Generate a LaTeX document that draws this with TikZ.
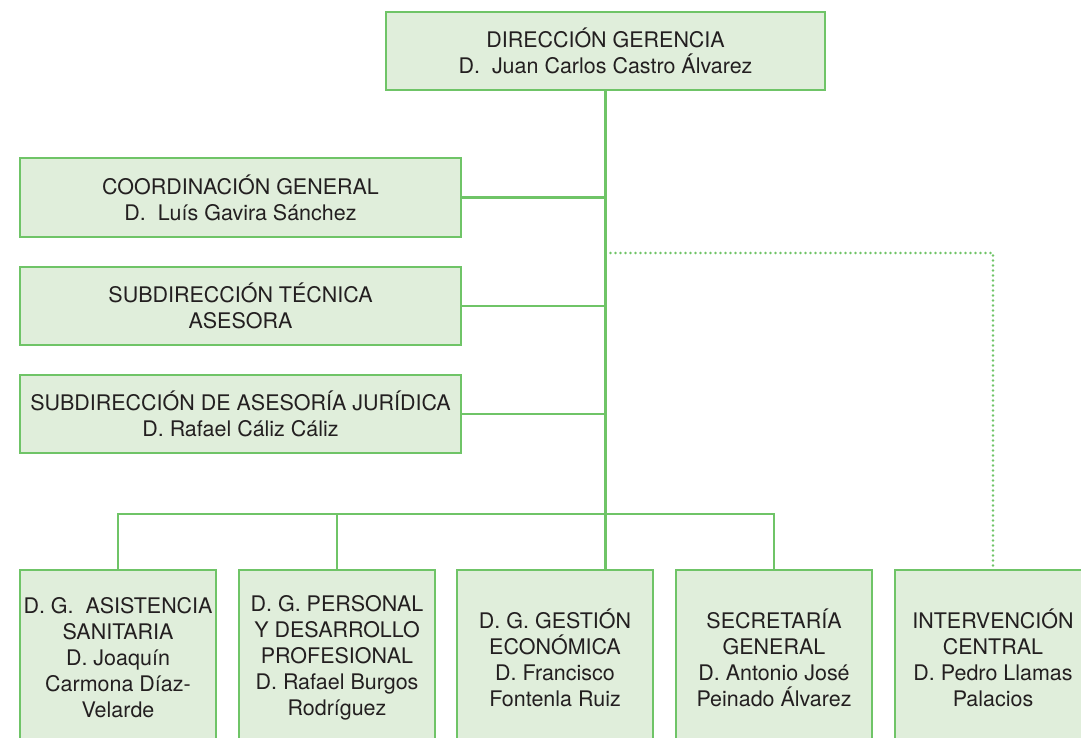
\documentclass[tikz,border=0pt]{standalone}
\usepackage{fontspec}
\setmainfont{TeX Gyre Heros}
\definecolor{lgreen}{HTML}{6FC467}
\definecolor{lfill}{HTML}{E0EEDB}
\definecolor{txt}{HTML}{231F20}
\tikzset{
  orgbox/.style={draw=lgreen, fill=lfill, line width=2pt, inner sep=0pt, align=center,
    text=txt, font=\fontsize{16.1pt}{19.5pt}\selectfont},
  link/.style={draw=lgreen, line width=2pt},
  dotlink/.style={draw=lgreen, line width=2pt, line cap=round, dash pattern=on 0pt off 3.75pt},
}
\begin{document}
\begin{tikzpicture}[x=0.75pt, y=-0.75pt]
\path[use as bounding box, clip] (0,0) rectangle (1081,738);
\fill[white] (0,0) rectangle (1081,738);
% boxes
\node[orgbox, minimum width=329.25pt, minimum height=58.5pt] (top) at (605.5,51)
  {DIRECCIÓN GERENCIA\\D.\ \ Juan Carlos Castro Álvarez};
\node[orgbox, minimum width=330.75pt, minimum height=59.25pt] (coord) at (240.5,197.5)
  {COORDINACIÓN GENERAL\\D.\ \ Luís Gavira Sánchez};
\node[orgbox, minimum width=330.75pt, minimum height=58.5pt] (tec) at (240.5,306)
  {SUBDIRECCIÓN TÉCNICA\\ASESORA};
\node[orgbox, minimum width=330.75pt, minimum height=58.5pt] (jur) at (240.5,414)
  {SUBDIRECCIÓN DE ASESORÍA JURÍDICA\\D. Rafael Cáliz Cáliz};
\node[orgbox, minimum width=147pt, minimum height=132pt] (b1) at (118,658)
  {D. G.\ \ ASISTENCIA\\SANITARIA\\D. Joaquín\\Carmona Díaz-\\Velarde};
\node[orgbox, minimum width=147pt, minimum height=132pt] (b2) at (337,658)
  {D. G. PERSONAL\\Y DESARROLLO\\PROFESIONAL\\D. Rafael Burgos\\Rodríguez};
\node[orgbox, minimum width=147pt, minimum height=132pt] (b3) at (555,658)
  {D. G. GESTIÓN\\ECONÓMICA\\D. Francisco\\Fontenla Ruiz};
\node[orgbox, minimum width=147pt, minimum height=132pt] (b4) at (774,658)
  {SECRETARÍA\\GENERAL\\D. Antonio José\\Peinado Álvarez};
\node[orgbox, minimum width=147pt, minimum height=132pt] (b5) at (993,658)
  {INTERVENCIÓN\\CENTRAL\\D. Pedro Llamas\\Palacios};
% connectors
\coordinate (hub) at (605.5,514);
\coordinate (dot) at (605.5,253);
\draw[link] (top.south) -- (top.south |- b3.north);
\draw[link] (coord.east) -- (coord.east -| top.south);
\draw[link] (tec.east) -- (tec.east -| top.south);
\draw[link] (jur.east) -- (jur.east -| top.south);
\draw[link] (b1.north) -- (b1.north |- hub) -- (b4.north |- hub) -- (b4.north);
\draw[link] (b2.north) -- (b2.north |- hub);
\draw[dotlink] (dot) -- (dot -| b5.north) -- (b5.north);
\end{tikzpicture}
\end{document}
